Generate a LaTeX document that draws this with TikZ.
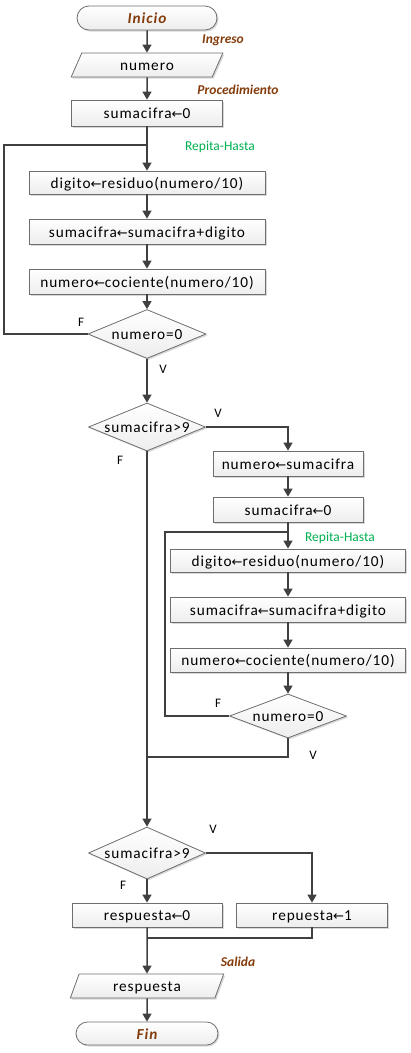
\documentclass[tikz,border=0pt]{standalone}
\usepackage{fontspec}
\setmainfont{Carlito}
\newfontfamily\boxfont{Carlito}[LetterSpace=6]
\newfontfamily\symf{DejaVu Sans}
\usetikzlibrary{shapes.geometric,shapes.misc,arrows.meta,shadows}
\definecolor{ln}{HTML}{404040}
\definecolor{bd}{HTML}{6E6E6E}
\definecolor{brn}{HTML}{843C0C}
\definecolor{grn}{HTML}{00B050}
\newcommand{\asg}{{\symf\fontsize{13}{15}\selectfont ←}}
\begin{document}
\begin{tikzpicture}[x=1pt,y=-1pt,
 every node/.style={font=\boxfont\fontsize{15.3}{17}\selectfont, text=black},
 boxfill/.style={top color=white,bottom color=gray!14, draw=bd, line width=0.8pt,
   text height=11.8pt, text depth=0.2pt,
   drop shadow={shadow xshift=1.5pt,shadow yshift=-1.5pt,fill=gray!60,opacity=.5}},
 proc/.style={boxfill, rectangle, inner sep=0pt},
 term/.style={boxfill, rounded rectangle, inner sep=0pt, minimum width=140pt, minimum height=24pt,
   font=\boxfont\fontsize{15.3}{17}\selectfont\bfseries\itshape, text=brn},
 io/.style={boxfill, trapezium, trapezium left angle=70, trapezium right angle=110,
   trapezium stretches=true, inner sep=0pt},
 dec/.style={boxfill, diamond, aspect=2.4, inner sep=0pt},
 flow/.style={draw=ln, line width=1.5pt, -{Triangle[length=8pt,width=9pt]}},
 wire/.style={draw=ln, line width=1.5pt},
 loopw/.style={draw=ln, line width=2.5pt},
 note/.style={font=\rmfamily\fontsize{13.5}{15}\selectfont\bfseries\itshape, text=brn},
 rep/.style={font=\rmfamily\fontsize{13.5}{15}\selectfont, text=grn},
 vf/.style={font=\rmfamily\fontsize{13}{15}\selectfont}
]
\useasboundingbox (0,0) rectangle (410,1053);
% nodes
\node[term] (ini) at (147,18) {Inicio};
\node[io, minimum width=152pt, minimum height=24pt] (in1) at (147,65) {numero};
\node[proc, minimum width=151pt, minimum height=26pt] (p0) at (147,113) {sumacifra\asg 0};
\node[proc, minimum width=236pt, minimum height=23pt] (b1) at (147,182.5) {digito\asg residuo(numero/10)};
\node[proc, minimum width=236pt, minimum height=25pt] (b2) at (147,231.5) {sumacifra\asg sumacifra+digito};
\node[proc, minimum width=236pt, minimum height=25pt] (b3) at (147,281.5) {numero\asg cociente(numero/10)};
\node[dec, minimum width=118pt, minimum height=49pt] (d1) at (147,334) {numero=0};
\node[dec, minimum width=117pt, minimum height=48pt] (d2) at (147,427) {sumacifra>9};
\node[proc, minimum width=150pt, minimum height=25pt] (b4) at (288,463.5) {numero\asg sumacifra};
\node[proc, minimum width=150pt, minimum height=25pt] (b5) at (288,509.5) {sumacifra\asg 0};
\node[proc, minimum width=235pt, minimum height=23pt] (b6) at (288,560.5) {digito\asg residuo(numero/10)};
\node[proc, minimum width=235pt, minimum height=25pt] (b7) at (288,609.5) {sumacifra\asg sumacifra+digito};
\node[proc, minimum width=235pt, minimum height=24pt] (b8) at (288,660) {numero\asg cociente(numero/10)};
\node[dec, minimum width=117pt, minimum height=44pt] (d3) at (288,716) {numero=0};
\node[dec, minimum width=117pt, minimum height=52pt] (d4) at (147,853) {sumacifra>9};
\node[proc, minimum width=150pt, minimum height=24pt] (b9) at (147,915) {respuesta\asg 0};
\node[proc, minimum width=151pt, minimum height=24pt] (b10) at (312,915) {repuesta\asg 1};
\node[io, minimum width=154pt, minimum height=24pt] (out) at (147,986) {respuesta};
\node[term, minimum width=142pt, minimum height=23pt] (fin) at (147,1033.5) {Fin};
% labels
\node[note] (lin) at (223,40) {Ingreso};
\node[note] (lpr) at (238,90) {Procedimiento};
\node[rep] (lr1) at (220,147) {Repita-Hasta};
\node[vf] (f1) at (81,322) {F};
\node[vf] (v1) at (163,369) {V};
\node[vf] (v2) at (218,413) {V};
\node[vf] (f2) at (120,460) {F};
\node[rep] (lr2) at (340,538) {Repita-Hasta};
\node[vf] (f3) at (218,703) {F};
\node[vf] (v3) at (313,755) {V};
\node[vf] (v4) at (213,829) {V};
\node[vf] (f4) at (123,885) {F};
\node[note] (lsa) at (238,962) {Salida};
% helper coordinates
\coordinate (j1) at (147,145);
\coordinate (l1) at (4,145);
\coordinate (j2) at (288,532);
\coordinate (l2) at (165,532);
\coordinate (m1) at (147,757);
\coordinate (m2) at (147,938);
% connectors
\draw[flow] (ini.south) -- (in1.north);
\draw[flow] (in1.south) -- (p0.north);
\draw[flow] (p0.south) -- (b1.north);
\draw[loopw] (d1.west) -| (l1) -- (j1);
\draw[flow] (b1.south) -- (b2.north);
\draw[flow] (b2.south) -- (b3.north);
\draw[flow] (b3.south) -- (d1.north);
\draw[flow] (d1.south) -- (d2.north);
\draw[flow] (d2.east) -| (b4.north);
\draw[flow] (b4.south) -- (b5.north);
\draw[flow] (b5.south) -- (b6.north);
\draw[loopw] (d3.west) -| (l2) -- (j2);
\draw[flow] (b6.south) -- (b7.north);
\draw[flow] (b7.south) -- (b8.north);
\draw[flow] (b8.south) -- (d3.north);
\draw[wire] (d3.south) |- (m1);
\draw[flow] (d2.south) -- (d4.north);
\draw[flow] (d4.east) -| (b10.north);
\draw[flow] (d4.south) -- (b9.north);
\draw[wire] (b10.south) |- (m2);
\draw[flow] (b9.south) -- (out.north);
\draw[flow] (out.south) -- (fin.north);
\end{tikzpicture}
\end{document}
